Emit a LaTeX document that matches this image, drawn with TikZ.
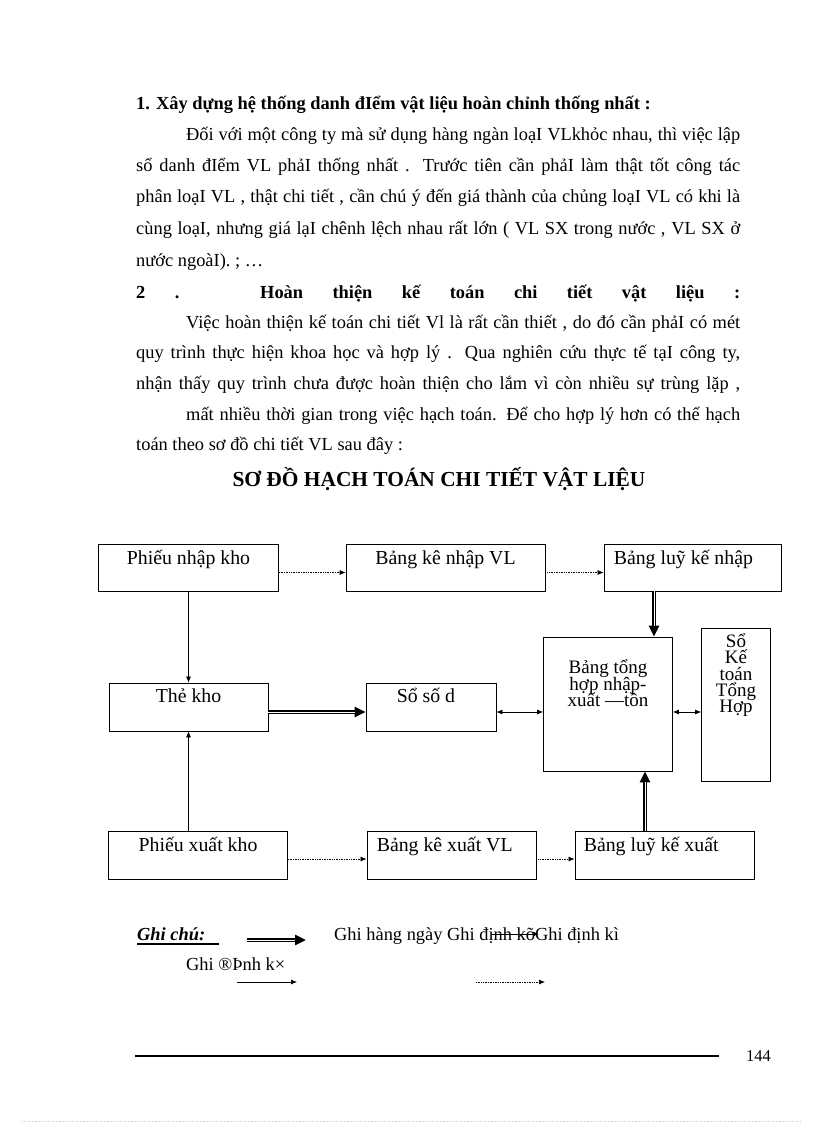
\documentclass[tikz,border=0pt]{standalone}
\usepackage{fontspec}
\setmainfont{Liberation Serif}
\usetikzlibrary{arrows.meta}
\newcommand{\jline}[1]{\makebox[604pt][s]{#1}}

\begin{document}
\begin{tikzpicture}[x=1pt,y=-1pt,
    txt/.style={anchor=base west,inner sep=0pt,font=\fontsize{18.4}{20}\selectfont},
    lbl/.style={anchor=base,inner sep=0pt,font=\fontsize{19.8}{20}\selectfont},
    stack/.style={anchor=base,inner sep=0pt,font=\fontsize{19}{19}\selectfont},
    box/.style={draw,line width=0.8pt,inner sep=0pt},
    dotarr/.style={densely dotted,line width=0.7pt,-{Latex[length=6pt,width=5pt]}},
    thinarr/.style={line width=0.7pt,-{Latex[length=6pt,width=5pt]}},
    botharr/.style={line width=0.7pt,{Latex[length=6pt,width=5pt]}-{Latex[length=6pt,width=5pt]}},
    dblarr/.style={line width=3.6pt,-{Triangle[length=11pt,width=10pt]},
      postaction={draw=white,line width=0.9pt,-,shorten >=11pt}}]
    \useasboundingbox (0,0) rectangle (816,1123);
    \fill[white] (0,0) rectangle (816,1123);

    \node[txt,font=\fontsize{18.4}{20}\selectfont\bfseries] (h1) at (136,110)
      {1. Xây dựng hệ thống danh đIểm vật liệu hoàn chỉnh thống nhất :};
    \node[txt] (p1) at (186,141) {\makebox[554pt][s]{Đối với một công ty mà sử dụng hàng ngàn loạI VLkhỏc nhau, thì việc lập}};
    \node[txt] (p2) at (136,172) {\jline{sổ danh đIểm VL phảI thống nhất . Trước tiên cần phảI làm thật tốt công tác}};
    \node[txt] (p3) at (136,203) {\jline{phân loạI VL , thật chi tiết , cần chú ý đến giá thành của chủng loạI VL có khi là}};
    \node[txt] (p4) at (136,235) {\jline{cùng loạI, nhưng giá lạI chênh lệch nhau rất lớn ( VL SX trong nước , VL SX ở}};
    \node[txt] (p5) at (136,266) {nước ngoàI). ; …};
    \node[txt,font=\fontsize{18.4}{20}\selectfont\bfseries] (h2) at (136,298)
      {\jline{2 . Hoàn thiện kế toán chi tiết vật liệu :}};
    \node[txt] (q1) at (186,328) {\makebox[554pt][s]{Việc hoàn thiện kế toán chi tiết Vl là rất cần thiết , do đó cần phảI có mét}};
    \node[txt] (q2) at (136,358) {\jline{quy trình thực hiện khoa học và hợp lý . Qua nghiên cứu thực tế tạI công ty,}};
    \node[txt] (q3) at (136,389) {\jline{nhận thấy quy trình chưa được hoàn thiện cho lắm vì còn nhiều sự trùng lặp ,}};
    \node[txt] (q4) at (186,420) {\makebox[554pt][s]{mất nhiều thời gian trong việc hạch toán. Để cho hợp lý hơn có thể hạch}};
    \node[txt] (q5) at (136,450) {toán theo sơ đồ chi tiết VL sau đây :};
    \node[lbl,font=\fontsize{21.4}{24}\selectfont\bfseries] (title) at (439,486)
      {SƠ ĐỒ HẠCH TOÁN CHI TIẾT VẬT LIỆU};

    \node[box,minimum width=180pt,minimum height=47pt] (pnk) at (188.5,567.5) {};
    \node[box,minimum width=199pt,minimum height=47pt] (bknh) at (445.5,567.5) {};
    \node[box,minimum width=177pt,minimum height=47pt] (blkn) at (692.5,567.5) {};
    \node[box,minimum width=159pt,minimum height=48pt] (tk) at (188.5,707) {};
    \node[box,minimum width=130pt,minimum height=48pt] (ssd) at (431,707) {};
    \node[box,minimum width=129pt,minimum height=134pt] (bth) at (608,704) {};
    \node[box,minimum width=69pt,minimum height=153pt] (skt) at (736,704.5) {};
    \node[box,minimum width=179pt,minimum height=48pt] (pxk) at (198,855) {};
    \node[box,minimum width=169pt,minimum height=48pt] (bkx) at (451.5,855) {};
    \node[box,minimum width=179pt,minimum height=48pt] (blkx) at (664.5,855) {};

    \node[lbl] at ([yshift=-21pt]pnk.north) {Phiếu nhập kho};
    \node[lbl] at ([yshift=-21pt]bknh.north) {Bảng kê nhập VL};
    \node[lbl,anchor=base west] at ([xshift=10pt,yshift=-21pt]blkn.north west) {Bảng luỹ kế nhập};
    \node[lbl] at ([yshift=-20pt]tk.north) {Thẻ kho};
    \node[lbl,anchor=base west] at ([xshift=31pt,yshift=-20pt]ssd.north west) {Sổ số d};
    \foreach \t [count=\i] in {Bảng tổng,hợp nhập-,xuất —tồn}
      \node[stack] at ([yshift={-37pt-16.5pt*(\i-1)}]bth.north) {\t};
    \foreach \t [count=\i] in {Sổ,Kế,toán,Tổng,Hợp}
      \node[stack] at ([yshift={-20pt-16.2pt*(\i-1)}]skt.north) {\t};
    \node[lbl] at ([yshift=-21pt]pxk.north) {Phiếu xuất kho};
    \node[lbl,anchor=base west] at ([xshift=10pt,yshift=-21pt]bkx.north west) {Bảng kê xuất VL};
    \node[lbl,anchor=base west] at ([xshift=9pt,yshift=-21pt]blkx.north west) {Bảng luỹ kế xuất};

    \draw[dotarr] ([yshift=-5pt]pnk.east) -- ([yshift=-5pt]bknh.west);
    \draw[dotarr] ([yshift=-5pt]bknh.east) -- ([yshift=-5pt]blkn.west);
    \draw[dotarr] ([yshift=-4pt]pxk.east) -- ([yshift=-4pt]bkx.west);
    \draw[dotarr] ([yshift=-4pt]bkx.east) -- ([yshift=-4pt]blkx.west);
    \draw[thinarr] (pnk.south) -- (tk.north);
    \draw[thinarr] (pxk.north -| tk.south) -- (tk.south);
    \draw[dblarr] ([yshift=-5pt]tk.east) -- ([yshift=-5pt]ssd.west);
    \draw[dblarr] (blkn.south -| 654,0) -- (bth.north -| 654,0);
    \draw[dblarr] (blkx.north -| 645,0) -- (bth.south -| 645,0);
    \draw[botharr] ([yshift=-5pt]ssd.east) -- ([yshift=-8pt]bth.west);
    \draw[botharr] ([yshift=-8pt]bth.east) -- ([yshift=-7.5pt]skt.west);

    \node[txt,font=\fontsize{18.4}{20}\selectfont\bfseries\itshape] (gc) at (137,940) {Ghi chú:};
    \draw[line width=1.3pt] (137,944) -- (219,944);
    \coordinate (d1) at (247,940);
    \coordinate (d2) at (306,940);
    \draw[dblarr] (d1) -- (d2);
    \node[txt] (g1) at (334,940) {Ghi hàng ngày Ghi định kõGhi định kì};
    \coordinate (s1) at (492,934);
    \coordinate (s2) at (539,934);
    \draw[thinarr] (s1) -- (s2);
    \node[txt] (g2) at (186,970) {Ghi ®Þnh k×};
    \coordinate (t1) at (237,982);
    \coordinate (t2) at (297,982);
    \draw[thinarr] (t1) -- (t2);
    \coordinate (u1) at (476,982);
    \coordinate (u2) at (545,982);
    \draw[dotarr] (u1) -- (u2);

    \draw[line width=2pt] (135,1056) -- (719,1056);
    \node[txt,font=\fontsize{16.5}{18}\selectfont] (pg) at (746,1061) {144};
    \draw[gray!40,dotted] (22,1121) -- (800,1121);
\end{tikzpicture}
\end{document}
